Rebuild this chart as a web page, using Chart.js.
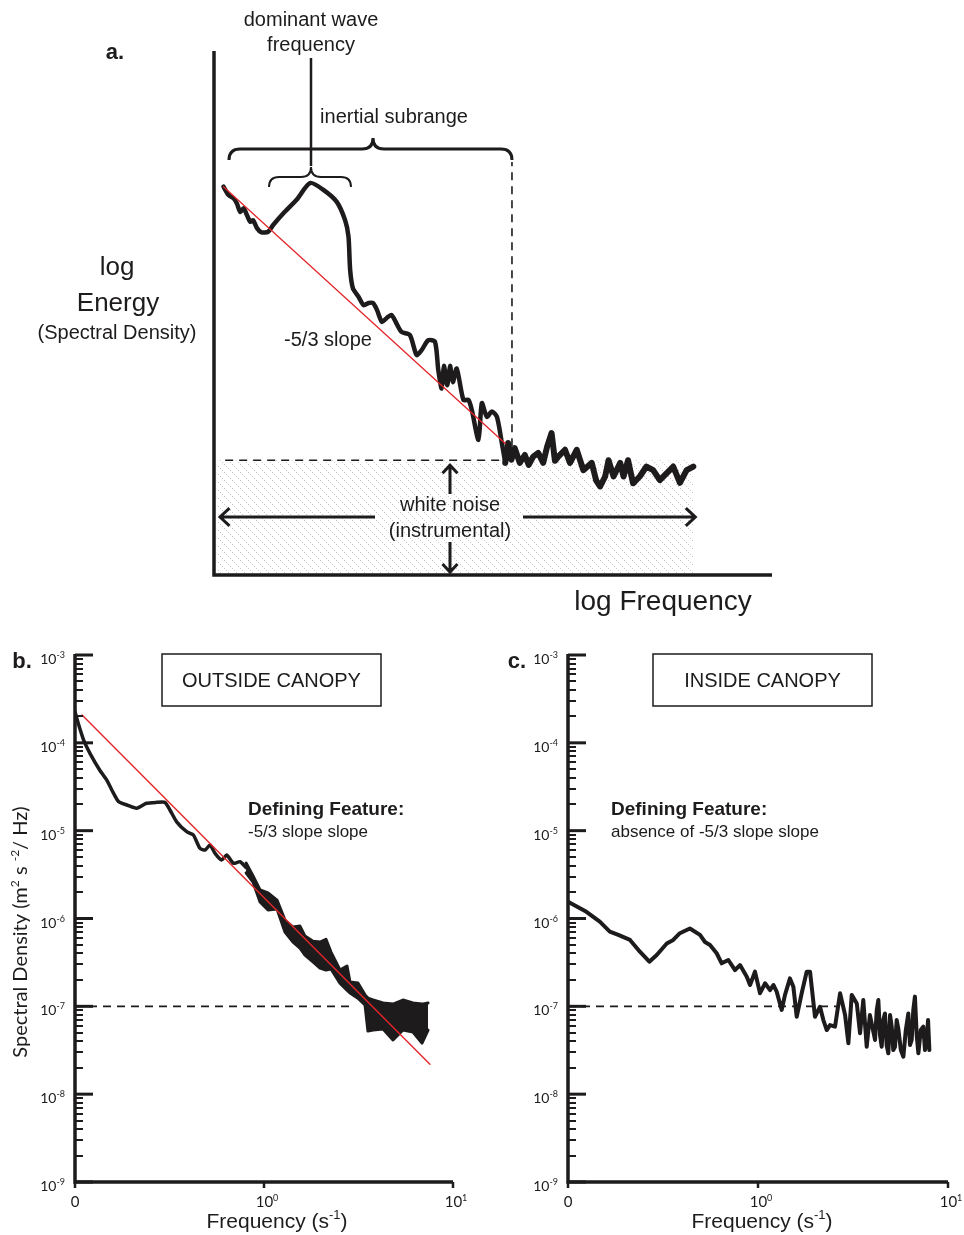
<!DOCTYPE html>
<html>
<head>
<meta charset="utf-8">
<script src="https://cdn.jsdelivr.net/npm/chart.js@4.4.1/dist/chart.umd.min.js"></script>
<style>
  html, body { margin: 0; padding: 0; background: #fff; }
  #wrap { position: relative; width: 964px; height: 1235px; overflow: hidden; background: #fff; }
  canvas { position: absolute; }
</style>
</head>
<body>
<div id="wrap">
  <canvas id="panelA" width="964" height="620" style="left:0;top:0;width:964px;height:620px"></canvas>
  <canvas id="panelB" width="482" height="615" style="left:0;top:620px;width:482px;height:615px"></canvas>
  <canvas id="panelC" width="482" height="615" style="left:482px;top:620px;width:482px;height:615px"></canvas>
</div>
<script>
// ---------- Panel a: schematic spectrum (arbitrary log units 0..10) ----------
const sketchLogFreq = [0.17, 0.26, 0.35, 0.41, 0.47, 0.53, 0.59, 0.65, 0.70, 0.77, 0.85, 0.97, 1.06, 1.24, 1.48, 1.72, 1.96, 2.20, 2.35, 2.41, 2.44, 2.49, 2.59, 2.68, 2.77, 2.85, 2.92, 3.01, 3.09, 3.18, 3.27, 3.36, 3.51, 3.63, 3.72, 3.84, 3.96, 4.02, 4.08, 4.12, 4.18, 4.23, 4.28, 4.35, 4.47, 4.56, 4.62, 4.74, 4.80, 4.89, 4.98, 5.07, 5.16, 5.22];
const sketchLogEnergy = [7.41, 7.25, 7.19, 7.09, 6.93, 7.00, 6.87, 6.74, 6.77, 6.62, 6.54, 6.55, 6.68, 6.90, 7.16, 7.48, 7.35, 7.12, 6.77, 6.46, 5.82, 5.47, 5.31, 5.15, 5.19, 5.19, 5.06, 4.83, 4.90, 4.96, 4.80, 4.64, 4.58, 4.20, 4.29, 4.48, 4.45, 3.91, 3.56, 3.99, 3.62, 3.99, 3.68, 3.94, 3.34, 3.34, 3.15, 2.58, 3.28, 3.02, 3.12, 3.02, 2.51, 2.14];
const sketchNoiseLogFreq = [5.22, 5.27, 5.33, 5.39, 5.48, 5.57, 5.64, 5.72, 5.81, 5.90, 5.97, 6.05, 6.11, 6.17, 6.29, 6.38, 6.50, 6.62, 6.77, 6.85, 6.92, 7.01, 7.07, 7.16, 7.28, 7.34, 7.42, 7.51, 7.63, 7.75, 7.87, 7.99, 8.11, 8.23, 8.35, 8.47, 8.59];
const sketchNoiseLogEnergy = [2.14, 2.52, 2.20, 2.42, 2.14, 2.29, 2.10, 2.26, 2.33, 2.14, 2.45, 2.71, 2.18, 2.26, 2.39, 2.14, 2.39, 2.00, 2.14, 1.80, 1.69, 1.88, 2.19, 1.88, 2.14, 1.88, 2.19, 1.75, 1.88, 2.07, 2.00, 1.81, 1.94, 2.07, 1.76, 2.00, 2.07];
const sketchSlopeLogFreq = [0.17, 5.22];
const sketchSlopeLogEnergy = [7.41, 2.51];
const sketchNoiseFloor = 2.19;
const sketchNoiseSpan = [0.05, 8.59];
const sketchFloorDashSpan = [0.20, 5.22];
const sketchCutoffLogFreq = 5.34;
const sketchCutoffTop = 7.88;

// ---------- Panel b: outside canopy ----------
const outsideFreq = [0.100, 0.104, 0.111, 0.120, 0.135, 0.147, 0.160, 0.170, 0.188, 0.212, 0.239, 0.270, 0.299, 0.318, 0.345, 0.390, 0.423, 0.458, 0.488, 0.518, 0.551, 0.597, 0.635, 0.688, 0.747, 0.804];
const outsideDensity = [2.26e-4, 1.67e-4, 1.08e-4, 7.60e-5, 4.91e-5, 3.78e-5, 2.66e-5, 2.14e-5, 1.96e-5, 1.80e-5, 2.05e-5, 2.10e-5, 2.10e-5, 1.72e-5, 1.26e-5, 9.73e-6, 8.93e-6, 6.30e-6, 6.02e-6, 6.87e-6, 5.52e-6, 4.63e-6, 5.28e-6, 4.25e-6, 4.43e-6, 3.80e-6];
const outsideBandFreq = [0.804, 0.875, 0.953, 1.050, 1.172, 1.291, 1.424, 1.550, 1.648, 1.816, 1.978, 2.128, 2.262, 2.523, 2.749, 2.851, 3.141, 3.423, 3.548, 3.776, 4.265, 4.815, 5.435, 6.138, 6.855, 7.379];
const outsideBandHigh = [4.28e-6, 3.05e-6, 2.11e-6, 1.95e-6, 1.62e-6, 9.6e-7, 8.0e-7, 8.2e-7, 6.3e-7, 5.5e-7, 5.4e-7, 5.8e-7, 4.15e-7, 2.59e-7, 2.88e-7, 1.89e-7, 1.84e-7, 1.35e-7, 1.24e-7, 1.18e-7, 1.09e-7, 1.06e-7, 1.18e-7, 1.09e-7, 1.06e-7, 1.09e-7];
const outsideBandLow = [3.30e-6, 2.60e-6, 1.54e-6, 1.25e-6, 1.28e-6, 7.0e-7, 5.4e-7, 4.6e-7, 3.84e-7, 3.20e-7, 2.73e-7, 2.59e-7, 2.66e-7, 1.84e-7, 1.53e-7, 1.42e-7, 1.24e-7, 1.04e-7, 5.24e-8, 5.37e-8, 5.52e-8, 4.14e-8, 5.37e-8, 5.10e-8, 3.82e-8, 5.37e-8];
const outsideSlopeFreq = [0.109, 7.55];
const outsideSlopeDensity = [2.08e-4, 2.19e-8];
const outsideNoiseLineEnd = 2.96;

// ---------- Panel c: inside canopy ----------
const insideFreq = [0.100, 0.125, 0.147, 0.166, 0.184, 0.212, 0.239, 0.268, 0.293, 0.331, 0.358, 0.388, 0.438, 0.495, 0.526, 0.559, 0.606, 0.644, 0.698, 0.757, 0.804, 0.873, 0.908, 0.964, 1.025, 1.089, 1.157, 1.205, 1.254, 1.333, 1.387, 1.473, 1.535, 1.599, 1.698, 1.804, 1.879, 1.995, 2.120, 2.208, 2.301, 2.394, 2.543, 2.704, 2.873, 2.990, 3.114, 3.311, 3.444, 3.583, 3.733, 3.882,
  4.130, 4.217, 4.299, 4.387, 4.477, 4.563, 4.657, 4.753, 4.852, 4.955, 5.056, 5.152, 5.261, 5.370, 5.473, 5.646, 5.821, 5.998, 6.182, 6.310, 6.442, 6.566, 6.699, 6.843, 6.982, 7.190, 7.413, 7.568, 7.727, 7.852, 7.980];
const insideDensity = [1.55e-6, 1.19e-6, 9.2e-7, 7.1e-7, 6.5e-7, 5.7e-7, 4.19e-7, 3.22e-7, 3.84e-7, 5.2e-7, 5.7e-7, 6.8e-7, 7.7e-7, 6.5e-7, 5.4e-7, 5.0e-7, 4.02e-7, 3.09e-7, 3.37e-7, 2.59e-7, 2.95e-7, 2.17e-7, 1.75e-7, 2.48e-7, 1.41e-7, 1.83e-7, 1.53e-7, 1.75e-7, 1.47e-7, 9.1e-8, 1.35e-7, 2.08e-7, 1.67e-7, 7.6e-8, 1.41e-7, 2.48e-7, 2.48e-7, 7.6e-8, 9.9e-8, 6.98e-8, 5.37e-8, 6.12e-8, 5.86e-8, 1.41e-7, 7.96e-8, 3.79e-8, 1.35e-7, 1.08e-7, 4.93e-8, 1.18e-7, 3.47e-8, 7.96e-8,
  4.14e-8, 9.08e-8, 1.18e-7, 4.71e-8, 3.47e-8, 6.98e-8, 8.3e-8, 3.63e-8, 2.92e-8, 7.96e-8, 5.86e-8, 3.18e-8, 3.47e-8, 6.98e-8, 5.62e-8, 3.18e-8, 2.67e-8, 5.37e-8, 8.3e-8, 3.63e-8, 4.14e-8, 9.08e-8, 1.29e-7, 4.71e-8, 2.92e-8, 5.37e-8, 5.86e-8, 3.18e-8, 4.14e-8, 6.98e-8, 3.18e-8];
const insideNoiseLineEnd = 2.64;

// ---------- Shared axis settings ----------
const noiseLevel = 1e-7;
const yTickExponents = [-3, -4, -5, -6, -7, -8, -9];
const xTickValues = [0.1, 1, 10];
const xTickLabels = [['0', ''], ['10', '0'], ['10', '1']];

const INK = '#1d1b1c';
const RED = '#e3262b';
const SANS = '"Liberation Sans", Arial, sans-serif';
const AXIS_FONT = 'Lato, "Liberation Sans", sans-serif';

const pts = (xs, ys) => xs.map((x, i) => ({ x, y: ys[i] }));

// Text with superscripts: parts = [[text, isSuperscript], ...]
function richText(ctx, parts, x, y, align, size, family, color) {
  const sup = Math.round(size * 0.62);
  const widths = parts.map(([t, s]) => { ctx.font = `${s ? sup : size}px ${family}`; return ctx.measureText(t).width; });
  const total = widths.reduce((a, b) => a + b, 0);
  let cx = align === 'center' ? x - total / 2 : align === 'right' ? x - total : x;
  ctx.textAlign = 'left';
  ctx.textBaseline = 'alphabetic';
  ctx.fillStyle = color || INK;
  parts.forEach(([t, s], i) => {
    ctx.font = `${s ? sup : size}px ${family}`;
    ctx.fillText(t, cx, s ? y - size * 0.42 : y);
    cx += widths[i];
  });
}

function text(ctx, t, x, y, font, align, baseline) {
  ctx.font = font;
  ctx.fillStyle = INK;
  ctx.textAlign = align || 'center';
  ctx.textBaseline = baseline || 'middle';
  ctx.fillText(t, x, y);
}

function brace(ctx, x1, x2, xm, y, h) {
  ctx.beginPath();
  ctx.moveTo(x1, y + h);
  ctx.quadraticCurveTo(x1, y, x1 + h, y);
  ctx.lineTo(xm - h, y);
  ctx.quadraticCurveTo(xm, y, xm, y - h);
  ctx.quadraticCurveTo(xm, y, xm + h, y);
  ctx.lineTo(x2 - h, y);
  ctx.quadraticCurveTo(x2, y, x2, y + h);
  ctx.stroke();
}

function arrow(ctx, x1, y1, x2, y2, head) {
  ctx.beginPath();
  ctx.moveTo(x1, y1);
  ctx.lineTo(x2, y2);
  const a = Math.atan2(y2 - y1, x2 - x1);
  ctx.moveTo(x2 - head * Math.cos(a - 0.75), y2 - head * Math.sin(a - 0.75));
  ctx.lineTo(x2, y2);
  ctx.lineTo(x2 - head * Math.cos(a + 0.75), y2 - head * Math.sin(a + 0.75));
  ctx.stroke();
}

// light dotted diagonal hatch for the white-noise region
function hatchPattern() {
  const tile = document.createElement('canvas');
  tile.width = 8; tile.height = 8;
  const t = tile.getContext('2d');
  t.fillStyle = '#c9c9c9';
  for (let i = 0; i < 8; i += 2) t.fillRect(i, i, 1, 1);
  return tile.getContext('2d').createPattern(tile, 'repeat');
}

const baseOptions = (padding, xType, xMin, xMax, yType, yMin, yMax) => ({
  responsive: false,
  animation: false,
  events: [],
  layout: { padding },
  elements: { point: { radius: 0 }, line: { tension: 0, borderJoinStyle: 'round', borderCapStyle: 'round' } },
  plugins: { legend: { display: false }, tooltip: { enabled: false } },
  scales: {
    x: { type: xType, min: xMin, max: xMax, display: false },
    y: { type: yType, min: yMin, max: yMax, display: false }
  }
});

// ---------- Panel a ----------
const schematicDecor = {
  id: 'schematicDecor',
  afterDatasetsDraw(chart) {
    const { ctx, chartArea: ca } = chart;
    const xs = chart.scales.x, ys = chart.scales.y;
    ctx.save();
    ctx.strokeStyle = INK;
    ctx.lineCap = 'butt';
    // axes
    ctx.lineWidth = 3.5;
    ctx.beginPath();
    ctx.moveTo(ca.left, ca.top);
    ctx.lineTo(ca.left, ca.bottom);
    ctx.lineTo(ca.right, ca.bottom);
    ctx.stroke();

    // braces and pointer
    ctx.lineWidth = 3;
    const xCut = xs.getPixelForValue(sketchCutoffLogFreq);
    brace(ctx, 229, xCut, 373, 149, 11);
    ctx.lineWidth = 2;
    brace(ctx, 269, 351, 311, 177, 10);
    ctx.lineWidth = 2.5;
    ctx.beginPath(); ctx.moveTo(311, 58); ctx.lineTo(311, 166); ctx.stroke();

    // white-noise arrows
    const yFloor = ys.getPixelForValue(sketchNoiseFloor);
    ctx.lineWidth = 3;
    arrow(ctx, 450, 494, 450, yFloor + 5, 11);
    arrow(ctx, 450, 542, 450, ca.bottom - 3, 11);
    arrow(ctx, 375, 517, ca.left + 6, 517, 13);
    arrow(ctx, 523, 517, xs.getPixelForValue(sketchNoiseSpan[1]) + 2, 517, 13);
    ctx.restore();

    // labels
    text(ctx, 'a.', 115, 53, `bold 22px ${SANS}`);
    text(ctx, 'dominant wave', 311, 20, `20px ${SANS}`);
    text(ctx, 'frequency', 311, 45, `20px ${SANS}`);
    text(ctx, 'inertial subrange', 394, 117, `20px ${SANS}`);
    text(ctx, '-5/3 slope', 328, 340, `20px ${SANS}`);
    text(ctx, 'log', 117, 268, `26px ${SANS}`);
    text(ctx, 'Energy', 118, 304, `26px ${SANS}`);
    text(ctx, '(Spectral Density)', 117, 333, `20px ${SANS}`);
    text(ctx, 'white noise', 450, 505, `20px ${SANS}`);
    text(ctx, '(instrumental)', 450, 531, `20px ${SANS}`);
    text(ctx, 'log Frequency', 663, 602, `28px ${SANS}`);
  }
};

new Chart(document.getElementById('panelA'), {
  type: 'line',
  data: {
    datasets: [
      { data: pts(sketchSlopeLogFreq, sketchSlopeLogEnergy), borderColor: RED, borderWidth: 1.3, order: 0 },
      { data: pts(sketchLogFreq, sketchLogEnergy), borderColor: INK, borderWidth: 4.5, tension: 0.25, order: 1 },
      { data: pts(sketchNoiseLogFreq, sketchNoiseLogEnergy), borderColor: INK, borderWidth: 6, order: 1 },
      { data: [{ x: sketchCutoffLogFreq, y: sketchNoiseFloor }, { x: sketchCutoffLogFreq, y: sketchCutoffTop }], borderColor: INK, borderWidth: 1.6, borderDash: [8, 6], borderCapStyle: 'butt', order: 2 },
      { data: pts(sketchFloorDashSpan, [sketchNoiseFloor, sketchNoiseFloor]), borderColor: INK, borderWidth: 1.6, borderDash: [8, 6], borderCapStyle: 'butt', order: 2 },
      { data: pts(sketchNoiseSpan, [sketchNoiseFloor, sketchNoiseFloor]), borderWidth: 0, borderColor: 'rgba(0,0,0,0)', backgroundColor: hatchPattern(), fill: 'start', order: 3 }
    ]
  },
  options: baseOptions({ left: 214, right: 192, top: 51, bottom: 45 }, 'linear', 0, 10, 'linear', 0, 10),
  plugins: [schematicDecor]
});

// ---------- Panels b and c ----------
function spectrumAxes(cfg) {
  return {
    id: 'spectrumAxes',
    afterDatasetsDraw(chart) {
      const { ctx, chartArea: ca } = chart;
      const xs = chart.scales.x, ys = chart.scales.y;
      ctx.save();
      ctx.strokeStyle = INK;
      ctx.lineCap = 'butt';
      // minor ticks (inside)
      ctx.lineWidth = 2;
      for (let e = -9; e < -3; e++) {
        for (let k = 2; k <= 9; k++) {
          const py = Math.round(ys.getPixelForValue(k * Math.pow(10, e)));
          ctx.beginPath(); ctx.moveTo(ca.left, py); ctx.lineTo(ca.left + 8, py); ctx.stroke();
        }
      }
      // major ticks
      ctx.lineWidth = 3;
      yTickExponents.forEach(e => {
        const py = ys.getPixelForValue(Math.pow(10, e));
        ctx.beginPath(); ctx.moveTo(ca.left, py); ctx.lineTo(ca.left + 18, py); ctx.stroke();
        richText(ctx, [['10', false], [String(e), true]], ca.left - 10, py + 9, 'right', 14, AXIS_FONT);
      });
      // axis lines
      ctx.lineWidth = 3.5;
      ctx.beginPath();
      ctx.moveTo(ca.left, ca.top - 1);
      ctx.lineTo(ca.left, ca.bottom);
      ctx.lineTo(ca.right, ca.bottom);
      ctx.stroke();
      // x ticks
      ctx.lineWidth = 2.5;
      xTickValues.forEach((v, i) => {
        const px = xs.getPixelForValue(v);
        ctx.beginPath(); ctx.moveTo(px, ca.bottom); ctx.lineTo(px, ca.bottom + 6); ctx.stroke();
        const [base, exp] = xTickLabels[i];
        const parts = exp ? [[base, false], [exp, true]] : [[base, false]];
        richText(ctx, parts, px + (exp ? 3 : 0), ca.bottom + 25, 'center', 15, AXIS_FONT);
      });
      ctx.restore();

      // titles
      richText(ctx, [['Frequency (s', false], ['-1', true], [')', false]], cfg.titleX, 608, 'center', 21, SANS);
      if (cfg.yTitle) {
        ctx.save();
        ctx.translate(20, 312);
        ctx.rotate(-Math.PI / 2);
        richText(ctx, [['Spectral Density (m', false], ['2', true], [' s ', false], ['-2', true], ['/ Hz)', false]], 0, 7, 'center', 20, AXIS_FONT);
        ctx.restore();
      }
      text(ctx, cfg.letter, cfg.letterX, 42, `bold 22px ${SANS}`);
      // title box
      ctx.save();
      ctx.strokeStyle = INK;
      ctx.lineWidth = 1.5;
      ctx.strokeRect(cfg.boxX, 34, 219, 52);
      ctx.restore();
      text(ctx, cfg.boxText, cfg.boxX + 109.5, 61, `20px ${SANS}`);
      text(ctx, 'Defining Feature:', cfg.noteX, 190, `bold 19px ${SANS}`, 'left');
      text(ctx, cfg.note, cfg.noteX, 212, `17px ${SANS}`, 'left');
    }
  };
}

const logOptions = pad => baseOptions(pad, 'logarithmic', 0.1, 10, 'logarithmic', 1e-9, 1e-3);

new Chart(document.getElementById('panelB'), {
  type: 'line',
  data: {
    datasets: [
      { data: pts(outsideSlopeFreq, outsideSlopeDensity), borderColor: RED, borderWidth: 1.4, order: 0 },
      { data: pts(outsideFreq, outsideDensity), borderColor: INK, borderWidth: 3.5, tension: 0.2, order: 1 },
      { data: pts(outsideBandFreq, outsideBandHigh), borderColor: INK, borderWidth: 3, order: 1 },
      { data: pts(outsideBandFreq, outsideBandLow), borderColor: INK, borderWidth: 3, backgroundColor: INK, fill: '-1', order: 1 },
      { data: pts([0.1, outsideNoiseLineEnd], [noiseLevel, noiseLevel]), borderColor: INK, borderWidth: 1.6, borderDash: [8, 6], borderCapStyle: 'butt', order: 2 }
    ]
  },
  options: logOptions({ left: 75, right: 29, top: 35, bottom: 53 }),
  plugins: [spectrumAxes({ letter: 'b.', letterX: 22, boxX: 162, boxText: 'OUTSIDE CANOPY', noteX: 248, note: '-5/3 slope slope', titleX: 277, yTitle: true })]
});

new Chart(document.getElementById('panelC'), {
  type: 'line',
  data: {
    datasets: [
      { data: pts(insideFreq, insideDensity), borderColor: INK, borderWidth: 4, order: 1 },
      { data: pts([0.1, insideNoiseLineEnd], [noiseLevel, noiseLevel]), borderColor: INK, borderWidth: 1.6, borderDash: [8, 6], borderCapStyle: 'butt', order: 2 }
    ]
  },
  options: logOptions({ left: 86, right: 16, top: 35, bottom: 53 }),
  plugins: [spectrumAxes({ letter: 'c.', letterX: 35, boxX: 171, boxText: 'INSIDE CANOPY', noteX: 129, note: 'absence of -5/3 slope slope', titleX: 280, yTitle: false })]
});
</script>
</body>
</html>
